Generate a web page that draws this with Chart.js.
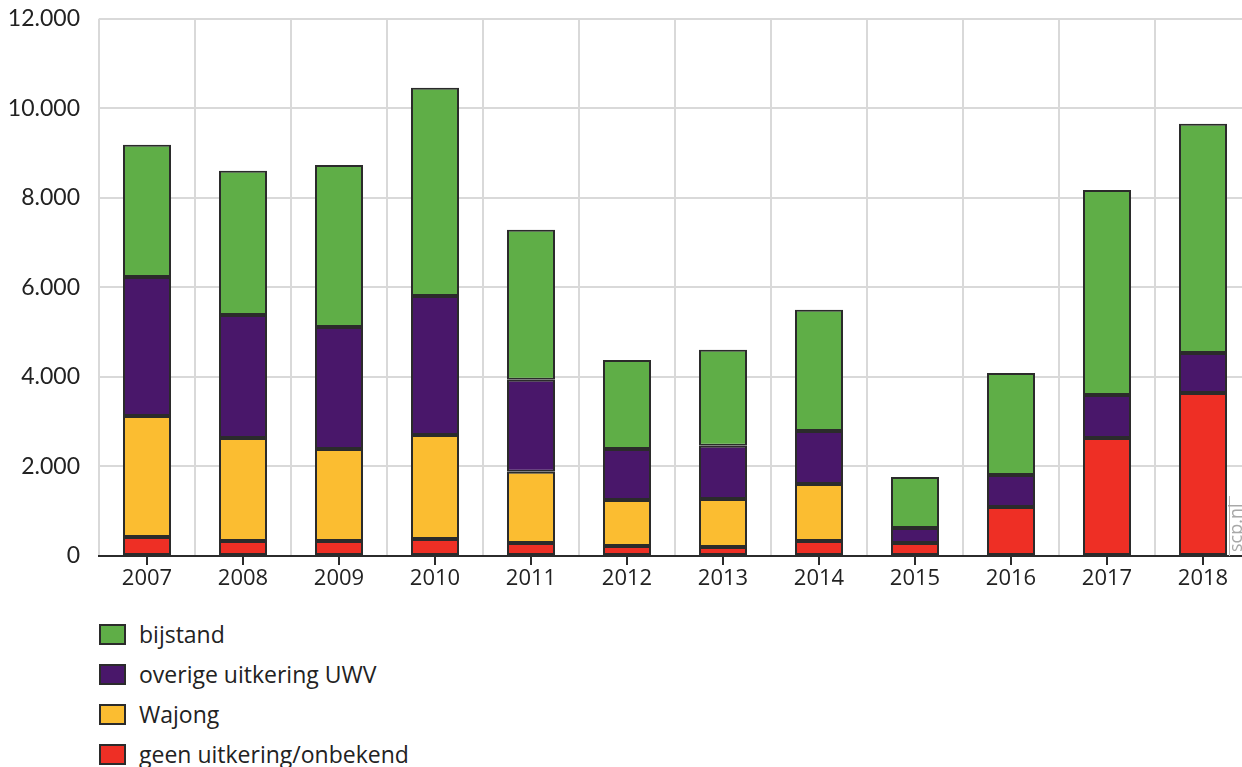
<!DOCTYPE html>
<html>
<head>
<meta charset="utf-8">
<script src="https://cdn.jsdelivr.net/npm/chart.js@4/dist/chart.umd.min.js"></script>
<style>
    html, body { margin: 0; padding: 0; background: #fff; overflow: hidden; }
    #wrap { position: relative; width: 1251px; height: 620px; margin-top: -14px; }
    #legenda { position: absolute; left: 99px; top: 614px; font-family: "Open Sans", sans-serif; font-size: 23px; color: #222; }
    .item { display: flex; align-items: center; height: 40px; }
    .vak { width: 23px; height: 17px; border: 2px solid #2b2b2b; margin-right: 13px; }
</style>
</head>
<body>
<div id="wrap"><canvas id="myChart"></canvas></div>
<div id="legenda"></div>
<script>
// jaren en waarden per uitkeringssoort
const JAREN = ['2007', '2008', '2009', '2010', '2011', '2012', '2013', '2014', '2015', '2016', '2017', '2018'];
const GEEN_UITKERING = [425, 335, 335, 380, 290, 225, 200, 335, 290, 1095, 2635, 3640];
const WAJONG = [2700, 2300, 2055, 2325, 1590, 1025, 1075, 1275, null, null, null, null];
const OVERIGE_UWV = [3110, 2750, 2725, 3105, 2055, 1140, 1185, 1185, 335, 715, 960, 895];
const BIJSTAND = [2950, 3220, 3620, 4650, 3350, 1990, 2145, 2705, 1140, 2280, 4580, 5120];
const Y_TICKS = [0, 2000, 4000, 6000, 8000, 10000, 12000];

const RAND = '#2b2b2b';

// kleine streepjes onder de as in het midden van elke categorie + scp.nl
const extraTekenen = {
    id: 'extraTekenen',
    afterDraw(chart) {
        const ctx = chart.ctx;
        const x = chart.scales.x;
        const bodem = chart.chartArea.bottom;
        ctx.save();
        ctx.strokeStyle = RAND;
        ctx.lineWidth = 2;
        JAREN.forEach((j, i) => {
            const px = Math.round(x.getPixelForTick(i));
            ctx.beginPath();
            ctx.moveTo(px, bodem);
            ctx.lineTo(px, bodem + 9);
            ctx.stroke();
        });
        // watermerk
        ctx.strokeStyle = '#b5b5b5';
        ctx.lineWidth = 1;
        ctx.beginPath();
        ctx.moveTo(1229.5, bodem - 60);
        ctx.lineTo(1229.5, bodem);
        ctx.stroke();
        ctx.translate(1246, bodem - 4);
        ctx.rotate(-Math.PI / 2);
        ctx.fillStyle = '#a8a8a8';
        ctx.font = '18px "Open Sans"';
        ctx.textBaseline = 'bottom';
        ctx.fillText('scp.nl', 0, 0);
        ctx.restore();
    }
};

function puntNotatie(v) {
    return String(v).replace(/\B(?=(\d{3})+(?!\d))/g, '.');
}

const ctx = document.getElementById('myChart').getContext('2d');
const myChart = new Chart(ctx, {
    type: 'bar',
    data: {
        labels: JAREN,
        datasets: [
            { label: 'geen uitkering/onbekend', data: GEEN_UITKERING, backgroundColor: '#ee2f25' },
            { label: 'Wajong', data: WAJONG, backgroundColor: '#fbbd31' },
            { label: 'overige uitkering UWV', data: OVERIGE_UWV, backgroundColor: '#49176a' },
            { label: 'bijstand', data: BIJSTAND, backgroundColor: '#5fae47' }
        ].map(d => Object.assign(d, {
            borderColor: RAND,
            borderWidth: 2,
            borderSkipped: false,
            barPercentage: 1,
            categoryPercentage: 0.5
        }))
    },
    options: {
        responsive: true,
        maintainAspectRatio: false,
        animation: false,
        layout: { padding: { top: 5, right: 0, left: 0, bottom: 0 } },
        plugins: {
            legend: { display: false },
            tooltip: { enabled: false }
        },
        scales: {
            x: {
                stacked: true,
                afterFit: s => { s.height = 50; },
                grid: { offset: true, color: '#d9d9d9', lineWidth: 2, drawTicks: true, tickLength: 8, tickColor: 'rgba(0,0,0,0)' },
                border: { color: RAND, width: 2 },
                ticks: { color: '#222', font: { family: 'Open Sans', size: 22 }, padding: 2, maxRotation: 0 }
            },
            y: {
                stacked: true,
                min: 0,
                max: 12000,
                afterFit: s => { s.width = 99; },
                afterBuildTicks: s => { s.ticks = Y_TICKS.map(v => ({ value: v })); },
                grid: { color: '#d9d9d9', lineWidth: 2, drawTicks: false },
                border: { display: false },
                ticks: {
                    color: '#222',
                    font: { family: 'Lato', size: 23 },
                    padding: 19,
                    callback: v => puntNotatie(v)
                }
            }
        }
    },
    plugins: [extraTekenen]
});

// legenda: bovenste reeks eerst
const legenda = document.getElementById('legenda');
myChart.data.datasets.slice().reverse().forEach(ds => {
    const rij = document.createElement('div');
    rij.className = 'item';
    rij.innerHTML = `<div class="vak" style="background:${ds.backgroundColor}"></div><span>${ds.label}</span>`;
    legenda.appendChild(rij);
});

window.myChart = myChart;
</script>
</body>
</html>
